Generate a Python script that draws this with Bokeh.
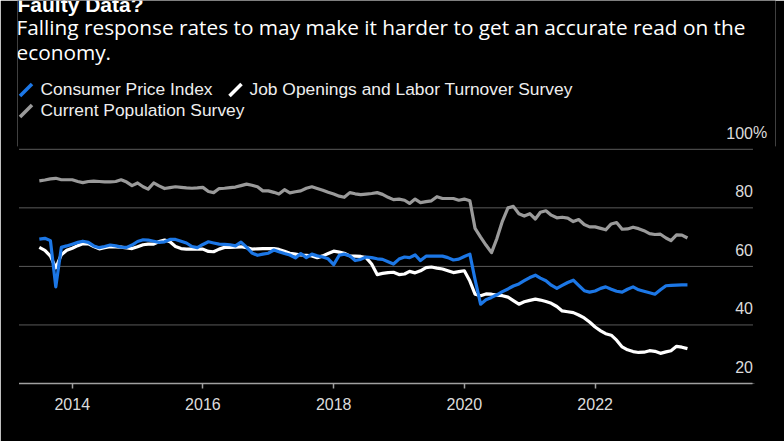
import datetime as dt
import pandas as pd
from bokeh.plotting import figure
from bokeh.models import Range1d, FixedTicker, DatetimeTickFormatter
from bokeh.core.properties import value
from bokeh.embed import file_html
from bokeh.resources import INLINE

# ---------------- data (monthly response rates, %) ----------------
months = pd.date_range("2013-07-01", periods=120, freq="MS")

cpi = [69.3, 69.6, 68.8, 53.0, 66.5, 67.0, 67.6, 68.2, 68.6, 68.2,
       67.0, 66.4, 66.8, 67.3, 67.0, 66.6, 66.5, 67.3, 68.5, 69.1,
       69.0, 68.6, 68.2, 68.4, 69.2, 69.2, 68.6, 68.0, 66.8, 66.4,
       67.5, 68.4, 68.0, 67.6, 67.5, 67.4, 67.0, 68.3, 66.6, 64.6,
       63.8, 64.2, 64.5, 65.6, 65.0, 64.4, 63.9, 62.9, 64.4, 63.0,
       64.2, 63.6, 63.2, 62.6, 60.6, 63.8, 64.2, 63.6, 62.0, 62.4,
       63.2, 63.0, 62.6, 62.4, 61.6, 60.8, 62.5, 63.2, 63.0, 63.9,
       62.0, 63.5, 63.5, 63.5, 63.5, 63.0, 62.2, 62.5, 63.4, 64.2,
       55.5, 47.1, 48.6, 49.4, 50.3, 51.4, 52.3, 53.3, 54.0, 55.1,
       56.2, 57.0, 56.0, 55.1, 53.6, 52.5, 53.5, 54.5, 55.3, 53.5,
       51.7, 51.2, 51.6, 52.5, 53.0, 52.2, 51.5, 51.2, 52.2, 53.0,
       52.0, 51.5, 51.0, 50.5, 52.0, 53.4, 53.5, 53.6, 53.7, 53.7]

jolts = [66.5, 65.5, 63.5, 59.5, 64.0, 65.5, 66.2, 67.1, 67.7, 67.7,
         66.8, 66.0, 66.4, 66.7, 66.7, 66.6, 66.3, 66.1, 66.7, 67.4,
         67.6, 67.6, 68.5, 69.0, 68.4, 66.8, 66.1, 65.9, 65.9, 65.9,
         65.9, 65.1, 65.0, 65.9, 66.5, 66.5, 66.6, 66.7, 66.4, 65.9,
         66.0, 66.1, 66.1, 66.1, 65.8, 65.2, 64.5, 64.2, 63.9, 63.8,
         63.6, 63.0, 63.6, 64.4, 65.2, 64.9, 64.5, 63.6, 63.5, 63.4,
         63.0, 60.8, 57.2, 57.6, 57.9, 58.0, 57.2, 57.4, 58.3, 57.8,
         58.5, 59.6, 59.8, 59.4, 59.1, 58.5, 57.9, 58.2, 58.5, 55.0,
         50.5, 50.0, 50.6, 50.5, 50.2, 50.0, 49.5, 48.3, 47.1, 47.9,
         48.4, 48.8, 48.5, 48.0, 47.4, 46.3, 44.8, 44.5, 44.2, 43.4,
         42.4, 41.0, 39.3, 38.0, 37.0, 36.5, 34.8, 32.5, 31.5, 30.9,
         30.6, 30.7, 31.2, 31.0, 30.3, 30.8, 31.2, 32.7, 32.4, 31.9]

cps = [89.2, 89.5, 89.9, 90.1, 89.6, 89.6, 89.6, 89.0, 88.6, 89.0,
       89.1, 89.0, 88.9, 88.9, 89.0, 89.6, 88.8, 87.6, 88.5, 87.2,
       86.4, 88.5, 87.5, 86.6, 86.9, 87.2, 87.0, 86.8, 86.7, 86.8,
       87.0, 85.6, 85.2, 86.6, 86.7, 86.9, 87.1, 87.6, 88.1, 87.7,
       87.2, 85.8, 85.8, 85.3, 84.7, 86.2, 85.1, 85.5, 85.8, 86.7,
       87.2, 86.6, 86.0, 85.3, 84.7, 84.0, 83.6, 85.2, 84.8, 84.5,
       84.7, 84.9, 85.2, 84.6, 83.6, 82.8, 83.0, 82.6, 81.5, 83.0,
       81.8, 82.1, 82.4, 83.8, 83.2, 83.2, 83.2, 82.6, 83.0, 82.4,
       73.0, 70.0, 67.3, 64.7, 69.5, 75.5, 80.0, 80.5, 78.0, 77.2,
       78.0, 76.2, 78.5, 79.0, 77.5, 76.6, 76.8, 76.5, 75.3, 76.0,
       74.3, 73.5, 73.5, 73.0, 72.5, 74.5, 75.0, 72.7, 72.8, 73.4,
       72.9, 72.2, 71.2, 70.9, 71.0, 69.7, 68.8, 70.8, 70.7, 69.7]

y_ticks = [20, 40, 60, 80, 100]
y_top_suffix = "%"
x_tick_years = [2014, 2016, 2018, 2020, 2022]

title_text = "Faulty Data?"
subtitle_lines = ["Falling response rates to may make it harder to get an accurate read on the",
                  "economy."]
series_names = ["Consumer Price Index", "Job Openings and Labor Turnover Survey",
                "Current Population Survey"]
series_colors = ["#1c77e6", "#ffffff", "#9a9a9a"]

FONT = "Liberation Sans"
SUB_FONT = "Open Sans"
GRID_COLOR = "#5a5a5a"
AXIS_COLOR = "#a0a0a0"
TICK_TEXT = "#dcdcdc"
BG = "black"

# ---------------- layout geometry ----------------
# the plot frame spans the whole upper canvas so that header texts and the
# "100%" label are drawn inside it; grid lines and axis line stop at the chart's right end
x_start = dt.datetime(2013, 3, 1)
x_chart_end = dt.datetime(2024, 6, 1)
x_frame_end = dt.datetime(2024, 10, 5)
y_start, y_frame_end = 20, 150.83
FL, FR, FT, FB = 17, 775, 0, 383   # frame edges in canvas pixels


def ms(d):
    return pd.Timestamp(d).value / 1e6


X0, X1 = ms(x_start), ms(x_frame_end)


def dx(cx):   # canvas x pixel -> data x
    return X0 + (cx - FL) / (FR - FL) * (X1 - X0)


def dy(cy):   # canvas y pixel -> data y
    return y_start + (FB - cy) / (FB - FT) * (y_frame_end - y_start)


PX_PER_Y = (FB - FT) / (y_frame_end - y_start)

p = figure(width=784, height=441, x_axis_type="datetime", y_axis_location=None,
           x_range=Range1d(x_start, x_frame_end), y_range=Range1d(y_start, y_frame_end),
           toolbar_location=None, tools="", output_backend="svg",
           min_border_left=FL, min_border_right=784 - FR, min_border_top=FT,
           min_border_bottom=441 - FB,
           background_fill_color=BG, border_fill_color=BG,
           outline_line_color=None)
p.xgrid.visible = False
p.ygrid.visible = False

# horizontal grid lines at the y ticks, across the chart area
p.segment(x0=[ms(x_start)] * len(y_ticks), x1=[ms(x_chart_end)] * len(y_ticks),
          y0=y_ticks, y1=y_ticks, line_color=GRID_COLOR, line_width=1)

# x axis
tick_ms = [ms(f"{y}-01-01") for y in x_tick_years]
ax = p.xaxis[0]
ax.ticker = FixedTicker(ticks=tick_ms, minor_ticks=[])
ax.bounds = (ms(x_start), ms(x_chart_end))
ax.formatter = DatetimeTickFormatter(years="%Y", months="%Y", days="%Y", hours="%Y",
                                     minutes="%Y", seconds="%Y", milliseconds="%Y",
                                     microseconds="%Y")
ax.axis_line_color = AXIS_COLOR
ax.axis_line_width = 1.5
ax.major_tick_line_color = AXIS_COLOR
ax.major_tick_line_width = 1.5
ax.major_tick_in = 0
ax.major_tick_out = 5
ax.minor_tick_line_color = None
ax.major_label_text_color = TICK_TEXT
ax.major_label_text_font = FONT
ax.major_label_text_font_size = "16px"
ax.major_label_standoff = 9

# data lines (CPS, JOLTS, CPI on top)
p.line(months, cps, line_color=series_colors[2], line_width=3.2, line_join="round")
p.line(months, jolts, line_color=series_colors[1], line_width=3.2, line_join="round")
p.line(months, cpi, line_color=series_colors[0], line_width=3.2, line_join="round")

# texts are placed by their baseline; the renderer draws them a little low,
# so lift them by a fraction of the font size
LIFT = 0.42

# y tick labels sitting above each gridline, at the right end of the chart area
lab_dy = (10 + LIFT * 16) / PX_PER_Y
p.text(x=[ms(x_chart_end)] * len(y_ticks), y=[v + lab_dy for v in y_ticks],
       text=[str(v) for v in y_ticks], text_align="right", text_baseline="alphabetic",
       text_color=TICK_TEXT, text_font=value(FONT), text_font_size="16px")
p.text(x=[ms(x_chart_end)], y=[y_ticks[-1] + lab_dy], text=[y_top_suffix],
       text_align="left", text_baseline="alphabetic",
       text_color=TICK_TEXT, text_font=value(FONT), text_font_size="16px")


def header_text(cx, cy, text, size, color="#ffffff", style="normal", font=FONT):
    p.text(x=[dx(cx)], y=[dy(cy - LIFT * size)], text=[text], text_align="left",
           text_baseline="alphabetic", text_color=color, text_font=value(font),
           text_font_size=f"{size}px", text_font_style=style)


header_text(17, 12.5, title_text, 21, style="bold")
header_text(16, 35, subtitle_lines[0], 20.8, font=SUB_FONT)
header_text(16, 60, subtitle_lines[1], 20.8, font=SUB_FONT)

# legend: slanted colour strokes followed by the series names
legend_pos = [(19.5, 95.5, 40), (229, 95.5, 249), (19.5, 116.5, 40)]
p.segment(x0=[dx(ix) for ix, iy, tx in legend_pos],
          y0=[dy(iy) for ix, iy, tx in legend_pos],
          x1=[dx(ix + 12) for ix, iy, tx in legend_pos],
          y1=[dy(iy - 12) for ix, iy, tx in legend_pos],
          line_color=series_colors, line_width=3.5)
for (ix, iy, tx), name in zip(legend_pos, series_names):
    header_text(tx, iy + 0.5, name, 17.4, color="#eeeeee")

# mask the thin edge lines the renderer leaves at the frame sides of the chart band
lo, hi = y_ticks[0] - 1, y_ticks[-1] + 1
p.segment(x0=[X0, X1, dx(754), dx(754)], x1=[X0, X1, X1, X1],
          y0=[lo, lo, y_ticks[0], y_ticks[-1]], y1=[hi, hi, y_ticks[0], y_ticks[-1]],
          line_color=BG, line_width=3, level="overlay")

open("out.html", "w").write(file_html(p, INLINE))
